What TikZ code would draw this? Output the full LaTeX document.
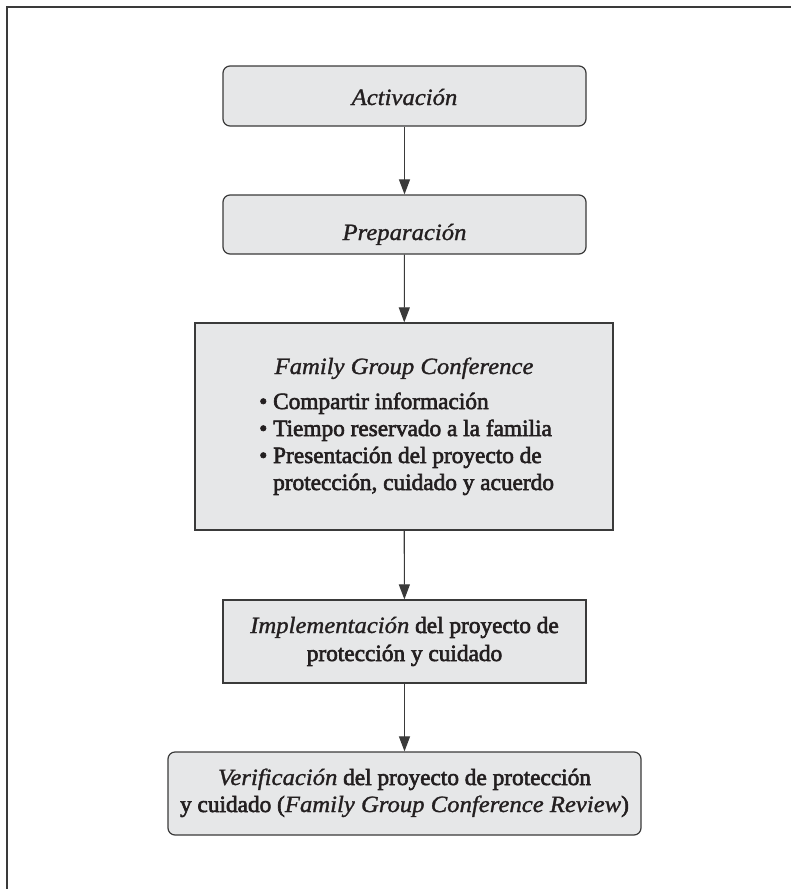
\documentclass[tikz,border=0pt]{standalone}
\usepackage{fontspec}
\setmainfont{Liberation Serif}[FakeBold=2.6]
\newfontfamily\itfam{Liberation Serif}[FakeStretch=1.06, FakeBold=1.2]
\usetikzlibrary{arrows.meta,positioning}
\definecolor{boxfill}{HTML}{E6E7E8}
\definecolor{boxline}{HTML}{3A3A3A}
\definecolor{txtcol}{HTML}{231F20}
\newcommand{\itx}[1]{{\itfam\itshape #1}}
\tikzset{
  stepbox/.style={draw=boxline, fill=boxfill, line width=1.2pt, inner sep=0pt},
  rbox/.style={stepbox, rounded corners=7pt},
  txt/.style={font=\fontsize{23.3}{28}\selectfont, text=txtcol, align=center, inner sep=0pt},
  conn/.style={draw=boxline, line width=1.1pt, -{Triangle[length=15pt,width=11pt]}},
  frameline/.style={draw=boxline, line width=1.6pt}
}
\begin{document}
\begin{tikzpicture}[x=1pt,y=-1pt]
\useasboundingbox (0,0) rectangle (791,889);
\coordinate (fb) at (7,889);
\coordinate (fc) at (7,7);
\coordinate (fr) at (791,7);
\draw[frameline] (fb) -- (fc) -- (fr);

\node[rbox, minimum width=363pt, minimum height=60pt] (act) at (404.5,96) {};
\node[txt, anchor=base] (acttxt) at (404.5,105) {\itx{Activación}};

\node[rbox, minimum width=363pt, minimum height=59pt] (prep) at (404.5,224.5) {};
\node[txt, anchor=base] (preptxt) at (404.5,240) {\itx{Preparación}};

\node[stepbox, minimum width=418pt, minimum height=207pt] (fgc) at (404,426.5) {};
\node[txt, anchor=base] (fgctitle) at (404,374) {\itx{Family Group Conference}};
\node[txt, anchor=base west] (fl1) at (259,409) {\textbullet\ Compartir información};
\node[txt, anchor=base west] (fl2) at (259,436) {\textbullet\ Tiempo reservado a la familia};
\node[txt, anchor=base west] (fl3) at (259,463) {\textbullet\ Presentación del proyecto de};
\node[txt, anchor=base west] (fl4) at (259,490) {\phantom{\textbullet\ }protección, cuidado y acuerdo};

\node[stepbox, minimum width=363pt, minimum height=83pt] (impl) at (404.5,641.5) {};
\node[txt, anchor=base] (impl1) at (404.5,633) {\itx{Implementación} del proyecto de};
\node[txt, anchor=base] (impl2) at (404.5,661) {protección y cuidado};

\node[rbox, minimum width=473pt, minimum height=83pt] (verif) at (404.5,793.5) {};
\node[txt, anchor=base] (ver1) at (404.5,785) {\itx{Verificación} del proyecto de protección};
\node[txt, anchor=base] (ver2) at (404.5,812) {y cuidado (\itx{Family Group Conference Review})};

\draw[conn] (act) -- (prep);
\draw[conn] (prep) -- (fgc);
\draw[conn] (fgc) -- (impl);
\draw[conn] (impl) -- (verif);
\end{tikzpicture}
\end{document}
